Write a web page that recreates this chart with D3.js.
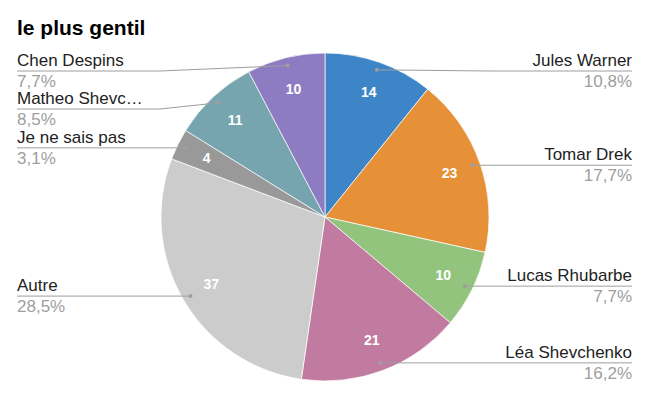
<!DOCTYPE html>
<html>
<head>
<meta charset="utf-8">
<script src="https://cdn.jsdelivr.net/npm/d3@7"></script>
<style>
  body { margin: 0; background: #fff; }
  svg { font-family: Arial, "Liberation Sans", sans-serif; }
</style>
</head>
<body>
<svg class="chart"></svg>
<script>
var width = 649,
    height = 399;

// data
var names = ["Jules Warner", "Tomar Drek", "Lucas Rhubarbe", "Léa Shevchenko",
             "Autre", "Je ne sais pas", "Matheo Shevc…", "Chen Despins"];
var votes = [14, 23, 10, 21, 37, 4, 11, 10];

var colors = ["#3d85c6", "#e69138", "#93c47d", "#c27ba0",
              "#cccccc", "#999999", "#76a5af", "#8e7cc3"];

var cx = 325, cy = 217, radius = 164;
var total = d3.sum(votes);

var chart = d3.select(".chart")
    .attr("width", width)
    .attr("height", height);

// title
chart.append("text")
    .attr("x", 17)
    .attr("y", 35)
    .attr("font-size", 21)
    .attr("font-weight", "bold")
    .attr("fill", "#000")
    .text("le plus gentil");

var pie = d3.pie().sort(null).value(function(d) { return d; });
var arcs = pie(votes);

var arc = d3.arc().innerRadius(0).outerRadius(radius);
var valueArc = d3.arc().innerRadius(132).outerRadius(132);
var dotArc = d3.arc().innerRadius(156).outerRadius(156);

var g = chart.append("g")
    .attr("transform", "translate(" + cx + "," + cy + ")");

// slices
g.selectAll("path.slice")
    .data(arcs)
    .enter().append("path")
    .attr("class", "slice")
    .attr("d", arc)
    .attr("fill", function(d, i) { return colors[i]; })
    .attr("stroke", "#fff")
    .attr("stroke-width", 0.7);

// values in the slices
g.selectAll("text.value")
    .data(arcs)
    .enter().append("text")
    .attr("class", "value")
    .attr("x", function(d) { return valueArc.centroid(d)[0]; })
    .attr("y", function(d) { return valueArc.centroid(d)[1]; })
    .attr("dy", ".35em")
    .attr("text-anchor", "middle")
    .attr("font-size", 14)
    .attr("font-weight", "bold")
    .attr("fill", "#fff")
    .text(function(d) { return d.data; });

// outside labels: place them near the dot, pushed apart so they don't overlap
var labels = arcs.map(function(d, i) {
  var c = dotArc.centroid(d);
  return { i: i, dx: c[0] + cx, dy: c[1] + cy, left: c[0] < 0 };
});

[true, false].forEach(function(side) {
  var prev = -Infinity;
  labels.filter(function(l) { return l.left === side; })
        .sort(function(a, b) { return a.dy - b.dy; })
        .forEach(function(l) {
          l.ly = Math.max(l.dy, prev + 38, 71);
          prev = l.ly;
        });
});

var fmt = function(v) {
  return (v / total * 100).toFixed(1).replace(".", ",") + "%";
};

var lab = chart.selectAll("g.label")
    .data(labels)
    .enter().append("g")
    .attr("class", "label");

lab.append("polyline")
    .attr("fill", "none")
    .attr("stroke", "#9e9e9e")
    .attr("stroke-width", 1)
    .attr("points", function(l) {
      var knee = l.left ? 160 : 490,
          end = l.left ? 17 : 632;
      return [[l.dx, l.dy], [knee, l.ly], [end, l.ly]].join(" ");
    });

lab.append("circle")
    .attr("cx", function(l) { return l.dx; })
    .attr("cy", function(l) { return l.dy; })
    .attr("r", 2)
    .attr("fill", "#9e9e9e");

lab.append("text")
    .attr("x", function(l) { return l.left ? 17 : 632; })
    .attr("y", function(l) { return l.ly - 5; })
    .attr("text-anchor", function(l) { return l.left ? "start" : "end"; })
    .attr("font-size", 17)
    .attr("fill", "#222")
    .text(function(l) { return names[l.i]; });

lab.append("text")
    .attr("x", function(l) { return l.left ? 17 : 632; })
    .attr("y", function(l) { return l.ly + 16; })
    .attr("text-anchor", function(l) { return l.left ? "start" : "end"; })
    .attr("font-size", 17)
    .attr("fill", "#9e9e9e")
    .text(function(l) { return fmt(votes[l.i]); });
</script>
</body>
</html>
